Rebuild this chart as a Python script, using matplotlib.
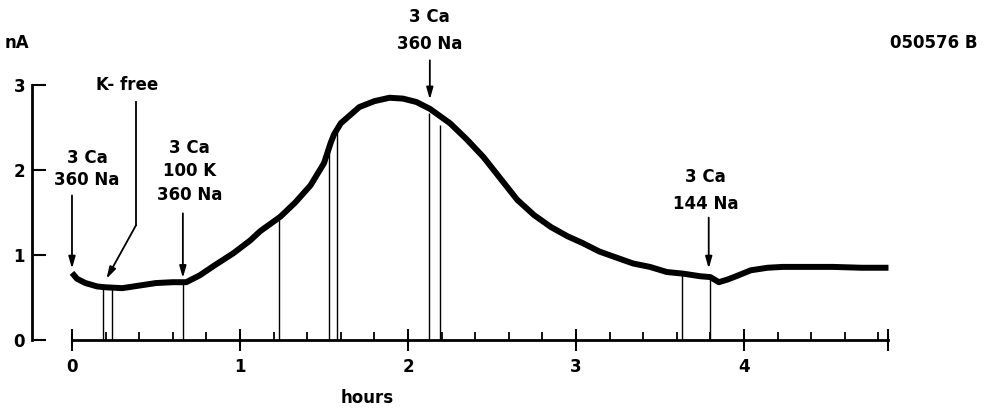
import numpy as np
import matplotlib
matplotlib.use('Agg')
import matplotlib.pyplot as plt

# membrane current trace (hours, nA)
trace_t = [0, 0.03, 0.08, 0.15, 0.2, 0.3, 0.4, 0.5, 0.6, 0.68, 0.76, 0.85, 0.96,
           1.06, 1.12, 1.24, 1.33, 1.42, 1.5, 1.54, 1.56, 1.6, 1.71, 1.8, 1.89,
           1.97, 2.05, 2.13, 2.25, 2.35, 2.45, 2.55, 2.65, 2.75, 2.85, 2.95,
           3.04, 3.14, 3.24, 3.34, 3.44, 3.54, 3.64, 3.74, 3.8, 3.85, 3.9, 3.94,
           4.04, 4.14, 4.23, 4.4, 4.53, 4.7, 4.86]
trace_i = [0.79, 0.72, 0.67, 0.63, 0.62, 0.61, 0.64, 0.67, 0.68, 0.68, 0.76, 0.88, 1.02,
           1.17, 1.28, 1.45, 1.62, 1.82, 2.08, 2.32, 2.42, 2.55, 2.74, 2.81, 2.85,
           2.84, 2.8, 2.72, 2.55, 2.36, 2.15, 1.9, 1.65, 1.47, 1.33, 1.22,
           1.14, 1.04, 0.97, 0.9, 0.86, 0.8, 0.78, 0.75, 0.74, 0.68, 0.71, 0.74,
           0.82, 0.85, 0.86, 0.86, 0.86, 0.85, 0.85]

# thin vertical marker lines from the axis up to the trace
mark_t = [0.186, 0.236, 0.663, 1.234, 1.532, 1.579, 2.125, 2.19, 3.629, 3.80]
mark_i = [0.62, 0.62, 0.68, 1.41, 2.27, 2.47, 2.67, 2.53, 0.78, 0.74]

# solution changes: label, text pos (top), arrow start, arrow tip
sol_labels = ['3 Ca\n360 Na', '3 Ca\n100 K\n360 Na', '3 Ca\n360 Na', '3 Ca\n144 Na']
sol_text_xy = [(0.09, 2.25), (0.70, 2.37), (2.13, 3.90), (3.77, 2.02)]
sol_arrow_from = [(0.0, 1.70), (0.66, 1.49), (2.13, 3.29), (3.79, 1.44)]
sol_arrow_to = [(0.0, 0.84), (0.66, 0.73), (2.13, 2.83), (3.79, 0.84)]
sol_spacing = [1.3, 1.4, 1.6, 1.6]

# K-free bent arrow
kfree_text = (0.33, 3.0)
kfree_path_x = [0.381, 0.381]
kfree_path_y = [2.80, 1.35]
kfree_tip = (0.205, 0.72)

x_major = [0, 1, 2, 3, 4, 4.86]
x_major_lab = ['0', '1', '2', '3', '4', '']
x_minor = [round(0.2 * k, 1) for k in range(1, 25) if k % 5 != 0]
y_major = [0, 1, 2, 3]

fnt = dict(family='DejaVu Sans', weight='bold', size=12)
arrow = dict(arrowstyle='-|>,head_length=0.7,head_width=0.2',
             color='black', lw=1.3, shrinkA=0, shrinkB=0)

fig = plt.figure(figsize=(9.84, 4.09), dpi=100)
ax = fig.add_axes([32 / 984, 69 / 409, 858 / 984, 340 / 409])

ax.plot(trace_t, trace_i, color='black', lw=4.3, solid_capstyle='butt')
ax.vlines(mark_t, 0, mark_i, color='black', lw=1.0)

ax.set_xlim(-0.238, 4.869)
ax.set_ylim(0, 4.0)

for s in ['top', 'right']:
    ax.spines[s].set_visible(False)
ax.spines['bottom'].set_bounds(0, 4.86)
ax.spines['left'].set_bounds(0, 3)
ax.spines['bottom'].set_linewidth(2.0)
ax.spines['left'].set_linewidth(2.0)

ax.set_xticks(x_major)
ax.set_xticklabels(x_major_lab, **fnt)
ax.set_xticks(x_minor, minor=True)
ax.tick_params(axis='x', which='major', direction='inout', length=16, width=1.5, pad=5)
ax.tick_params(axis='x', which='minor', direction='in', length=6, width=1.3)
ax.set_yticks(y_major)
ax.set_yticklabels([str(v) for v in y_major], **fnt)
ax.tick_params(axis='y', which='major', direction='in', length=10, width=1.5, pad=5)

for lab, txy, a0, a1, ls in zip(sol_labels, sol_text_xy, sol_arrow_from,
                                sol_arrow_to, sol_spacing):
    ax.text(txy[0], txy[1], lab, ha='center', va='top', linespacing=ls, **fnt)
    ax.annotate('', xy=a1, xytext=a0, arrowprops=arrow)

ax.text(kfree_text[0], kfree_text[1], 'K- free', ha='center', va='center', **fnt)
ax.plot(kfree_path_x, kfree_path_y, color='black', lw=1.3)
ax.annotate('', xy=kfree_tip, xytext=(kfree_path_x[1], kfree_path_y[1]),
            arrowprops=arrow)

fig.text(17 / 984, 1 - 43 / 409, 'nA', ha='center', va='center', **fnt)
fig.text(978 / 984, 1 - 43 / 409, '050576 B', ha='right', va='center', **fnt)
fig.text(367 / 984, 1 - 398 / 409, 'hours', ha='center', va='center', **fnt)

fig.savefig('out.png', dpi=100)
